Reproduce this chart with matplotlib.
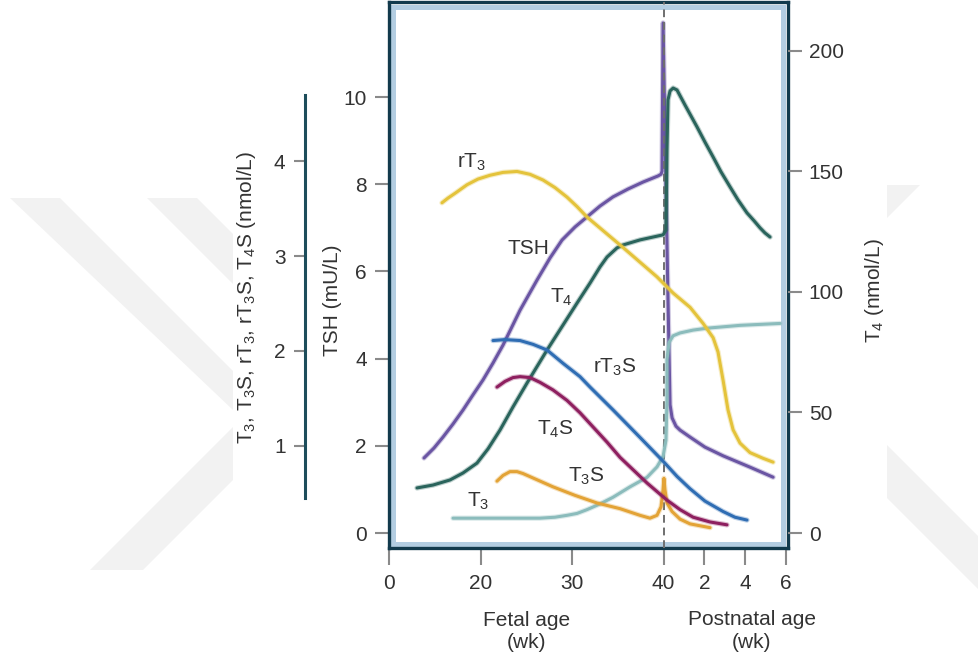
import matplotlib
matplotlib.use('Agg')
import matplotlib.pyplot as plt
import matplotlib.patheffects as pe
from matplotlib.patches import Rectangle, Polygon
from matplotlib.ticker import NullLocator
import numpy as np

plt.rcParams['font.family'] = 'Liberation Sans'
plt.rcParams['mathtext.fontset'] = 'custom'
plt.rcParams['mathtext.rm'] = 'Liberation Sans'
plt.rcParams['mathtext.it'] = 'Liberation Sans:italic'
plt.rcParams['mathtext.bf'] = 'Liberation Sans:bold'
plt.rcParams['mathtext.default'] = 'regular'

W, H = 979, 659

# age in weeks of gestation, postnatal week p is stored as 40 + p
tsh_age = [7.65, 9.84, 11.80, 13.99, 16.17, 18.36, 20.27, 21.37, 22.46, 24.32, 26.17, 27.60,
           28.91, 30.33, 31.64, 33.06, 34.48, 36.12, 37.76, 39.40, 39.73, 39.84, 39.95,
           40.22, 40.32, 40.42, 40.61, 40.81, 41.30, 42.03, 42.92, 44.24, 45.37]
tsh_val = [1.72, 1.95, 2.20, 2.50, 2.82, 3.17, 3.51, 3.90, 4.31, 5.11, 5.80, 6.31,
           6.72, 7.02, 7.25, 7.50, 7.71, 7.89, 8.05, 8.19, 8.23, 8.30, 11.70,
           5.34, 2.94, 2.64, 2.45, 2.36, 2.20, 1.97, 1.77, 1.51, 1.28]

t4_age = [6.12, 9.62, 13.33, 16.17, 19.23, 20.82, 22.13, 23.55, 25.08, 27.27, 29.02, 30.55,
          31.97, 33.06, 33.83, 34.92, 35.57, 37.43, 39.95, 40.12, 40.17, 40.22, 40.32,
          40.47, 40.66, 41.05, 41.64, 42.03, 42.43, 42.82, 43.26, 43.65, 44.09, 44.44,
          44.73, 44.97, 45.22]
t4_val = [18.7, 19.9, 22.0, 24.9, 29.0, 34.9, 42.7, 52.3, 62.2, 75.9, 86.3, 95.4,
          103.7, 110.4, 114.5, 118.3, 119.5, 121.6, 123.7, 125.7, 158.9, 179.7, 183.4,
          184.6, 183.8, 177.6, 168.5, 162.2, 156.0, 149.8, 143.6, 138.2, 132.8, 129.5,
          126.6, 124.5, 122.8]

rt3_age = [11.58, 12.90, 14.43, 17.05, 19.45, 21.04, 22.46, 23.99, 25.41, 26.83, 28.14,
           29.45, 30.55, 31.64, 35.57, 39.29, 40.47, 41.30, 41.94, 42.43, 42.67, 42.92,
           43.16, 43.41, 43.75, 44.24, 44.88, 45.37]
rt3_val = [3.56, 3.61, 3.66, 3.75, 3.81, 3.85, 3.88, 3.89, 3.86, 3.80, 3.72,
           3.62, 3.52, 3.41, 3.09, 2.78, 2.61, 2.46, 2.29, 2.14, 1.99, 1.69,
           1.38, 1.17, 1.03, 0.93, 0.87, 0.83]

rt3s_age = [21.37, 22.68, 24.32, 25.74, 27.27, 29.02, 30.87, 31.97, 34.48, 37.43, 39.95,
            40.66, 41.30, 42.03, 42.92, 43.50, 44.09]
rt3s_val = [2.11, 2.12, 2.11, 2.07, 2.01, 1.87, 1.73, 1.62, 1.38, 1.09, 0.84,
            0.68, 0.55, 0.42, 0.31, 0.25, 0.22]

t4s_age = [21.80, 22.68, 23.55, 24.32, 25.41, 26.50, 27.92, 29.45, 30.87, 32.30, 33.83,
           35.25, 36.67, 38.20, 39.29, 40.17, 40.81, 41.45, 42.28, 43.11]
t4s_val = [1.62, 1.68, 1.72, 1.73, 1.72, 1.67, 1.59, 1.48, 1.35, 1.20, 1.04,
           0.88, 0.75, 0.61, 0.52, 0.43, 0.33, 0.25, 0.20, 0.17]

t3s_age = [21.80, 22.46, 23.22, 23.99, 24.64, 26.28, 27.92, 30.33, 32.73, 35.25, 37.43,
           38.52, 39.29, 39.73, 39.95, 40.02, 40.07, 40.17, 40.42, 40.81, 41.30, 42.28]
t3s_val = [0.63, 0.69, 0.73, 0.73, 0.71, 0.64, 0.57, 0.48, 0.40, 0.34, 0.27,
           0.24, 0.27, 0.36, 0.54, 0.66, 0.54, 0.40, 0.31, 0.23, 0.18, 0.14]

t3_age = [13.99, 26.50, 28.14, 29.45, 30.55, 31.64, 33.06, 34.48, 36.34, 38.20, 39.29,
          39.95, 40.12, 40.17, 40.17, 40.27, 40.47, 40.81, 41.45, 42.13, 43.75, 45.71]
t3_val = [0.24, 0.24, 0.25, 0.27, 0.29, 0.33, 0.39, 0.46, 0.57, 0.67, 0.78,
          0.89, 1.06, 1.48, 1.91, 2.09, 2.16, 2.19, 2.22, 2.24, 2.27, 2.29]

x_ticks = [0, 20, 30, 40, 42, 44, 46]
x_labels = ['0', '20', '30', '40', '2', '4', '6']

POST = 2.23  # postnatal weeks are drawn wider


def fwd(a):
    a = np.asarray(a, dtype=float)
    return np.where(a < 20, a / 2, np.where(a <= 40, a - 10, 30 + (a - 40) * POST))


def inv(p):
    p = np.asarray(p, dtype=float)
    return np.where(p < 10, p * 2, np.where(p <= 30, p + 10, 40 + (p - 30) / POST))


def fx(px):
    return px / W


def fy(py):
    return 1 - py / H


fig = plt.figure(figsize=(W / 100, H / 100), dpi=100)

# faint background watermark
wm = [[(10, 198), (60, 198), (233, 371), (233, 410)],
      [(90, 570), (233, 427), (233, 480), (143, 570)],
      [(147, 198), (197, 198), (233, 234), (233, 284)],
      [(887, 185), (920, 185), (887, 218)],
      [(887, 445), (979, 537), (979, 590), (887, 498)]]
for poly in wm:
    fig.patches.append(Polygon([(fx(a), fy(b)) for a, b in poly], closed=True,
                               transform=fig.transFigure, fc='#f2f2f2', ec='none', zorder=0))

ax = fig.add_axes([fx(389), fy(548), 399 / W, 546 / H])
ax.set_xscale('function', functions=(fwd, inv))
ax.set_xlim(0, 46.1)
ax.set_ylim(-0.344, 12.18)
ax2 = ax.twinx()
ax2.set_ylim(-6.22, 220.3)
ax3 = ax.twinx()
ax3.set_ylim(-0.074, 5.674)

dark = '#123a4c'
tick_c = '#8a8a8a'
txt_c = '#333333'
for s in ax.spines.values():
    s.set_color(dark)
    s.set_linewidth(2.4)
for s in ax2.spines.values():
    s.set_visible(False)
for k, s in ax3.spines.items():
    s.set_visible(k == 'left')

ax.add_patch(Rectangle((4.5 / 399, 4.5 / 546), 1 - 9 / 399, 1 - 9 / 546, transform=ax.transAxes,
                       fill=False, ec='#b3cde1', lw=3.6, zorder=0.5))

ax.set_xticks(x_ticks)
ax.set_xticklabels(x_labels)
ax.xaxis.set_minor_locator(NullLocator())
ax.tick_params(axis='x', length=12, width=1.5, color=tick_c, pad=7, labelsize=15, labelcolor=txt_c)
ax.set_yticks([0, 2, 4, 6, 8, 10])
ax.tick_params(axis='y', length=10, width=1.5, color=tick_c, pad=6, labelsize=15, labelcolor=txt_c)
ax2.set_yticks([0, 50, 100, 150, 200])
ax2.tick_params(axis='y', length=10, width=1.5, color=tick_c, pad=5, labelsize=15, labelcolor=txt_c)

ax3.yaxis.tick_left()
ax3.spines['left'].set_position(('outward', 84 * 0.72))
ax3.spines['left'].set_bounds(0.45, 4.69)
ax3.spines['left'].set_color('#1d4d5b')
ax3.spines['left'].set_linewidth(2.2)
ax3.set_yticks([1, 2, 3, 4])
ax3.tick_params(axis='y', length=8, width=1.5, color=tick_c, pad=6, labelsize=15, labelcolor=txt_c)

ax.axvline(40, color='#6f6f6f', lw=1.4, ls=(0, (4, 2.5)), zorder=5)


def curve(axis, x, y, color):
    axis.plot(x, y, color=color, lw=2.2, solid_capstyle='round', solid_joinstyle='round',
              path_effects=[pe.Stroke(linewidth=3.8, foreground=color, alpha=0.3), pe.Normal()])


curve(ax3, t3_age, t3_val, '#8bbcbc')
curve(ax3, t3s_age, t3s_val, '#e3a336')
curve(ax3, t4s_age, t4s_val, '#8e1f5f')
curve(ax3, rt3s_age, rt3s_val, '#2f6db3')
curve(ax3, rt3_age, rt3_val, '#e4c33b')
curve(ax2, t4_age, t4_val, '#2a645c')
curve(ax, tsh_age, tsh_val, '#6a55a3')

labels = [('rT$_3$', 457, 168), ('TSH', 508, 254), ('T$_4$', 550, 303), ('rT$_3$S', 593, 373),
          ('T$_4$S', 537, 435), ('T$_3$S', 568, 482), ('T$_3$', 467, 507)]
for s, px, py in labels:
    fig.text(fx(px), fy(py), s, fontsize=15, color=txt_c, ha='left', va='baseline', zorder=10)

fig.text(fx(333), fy(300), 'TSH (mU/L)', rotation=90, ha='center', va='center', fontsize=15, color=txt_c)
fig.text(fx(246), fy(297), 'T$_3$, T$_3$S, rT$_3$, rT$_3$S, T$_4$S (nmol/L)', rotation=90,
         ha='center', va='center', fontsize=15, color=txt_c)
fig.text(fx(875), fy(291), 'T$_4$ (nmol/L)', rotation=90, ha='center', va='center', fontsize=15, color=txt_c)
fig.text(fx(527), fy(626), 'Fetal age', ha='center', va='baseline', fontsize=15, color=txt_c)
fig.text(fx(527), fy(648), '(wk)', ha='center', va='baseline', fontsize=15, color=txt_c)
fig.text(fx(752), fy(625), 'Postnatal age', ha='center', va='baseline', fontsize=15, color=txt_c)
fig.text(fx(752), fy(648), '(wk)', ha='center', va='baseline', fontsize=15, color=txt_c)

fig.savefig('out.png', dpi=100)
